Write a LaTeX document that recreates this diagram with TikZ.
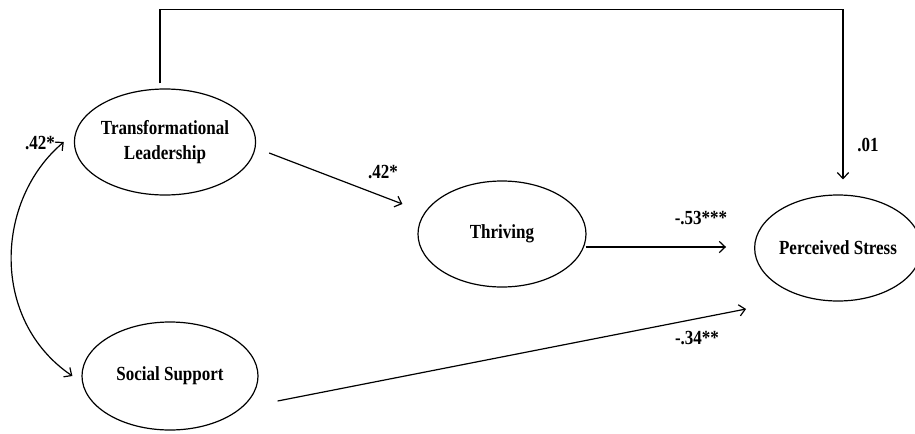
\documentclass[tikz,border=0pt]{standalone}
\usepackage{fontspec}
\setmainfont{Liberation Serif}[FakeStretch=0.85]
\usetikzlibrary{shapes.geometric,arrows.meta}
\begin{document}
\begin{tikzpicture}[x=0.75pt,y=-0.75pt,
  latent/.style={ellipse,draw,line width=0.9pt,inner sep=0pt,align=center,
    font=\fontsize{15}{18.5}\selectfont\bfseries},
  conn/.style={line width=0.9pt,-{Straight Barb[length=4.5pt,width=8.5pt,line width=0.9pt]}},
  dconn/.style={line width=0.9pt,{Straight Barb[length=4.5pt,width=8.5pt,line width=0.9pt]}-{Straight Barb[length=4.5pt,width=8.5pt,line width=0.9pt]}},
  coef/.style={inner sep=0pt,font=\fontsize{15}{18}\selectfont\bfseries}]
\useasboundingbox (0,0) rectangle (915,433);
\node[latent,minimum width=124.5pt,minimum height=79.5pt] (TL) at (165,142) {Transformational\\Leadership};
\node[latent,minimum width=132pt,minimum height=81pt] (SS) at (170,376) {Social Support};
\node[latent,minimum width=126pt,minimum height=79.5pt] (TH) at (502,234) {Thriving};
\node[latent,minimum width=115.5pt,minimum height=79.5pt] (PS) at (838,248) {Perceived Stress};
% connectors
\draw[conn] ([shift={(-5,-5)}]TL.north) -- ++(0,-74) -| ([shift={(5,-15)}]PS.north);
\draw[conn] ([shift={(13,11)}]TL.east) -- ([shift={(-15,-30)}]TH.west);
\draw[conn] ([shift={(-1,13)}]TH.east) -- ([shift={(-28,-1)}]PS.west);
\draw[conn] ([shift={(19,25)}]SS.east) -- ([shift={(-8,61)}]PS.west);
\draw[dconn] ([shift={(-10,0)}]TL.west) .. controls (-5,200) and (-10,320) .. ([shift={(-9,0)}]SS.west);
% coefficients
\node[coef] (c1) at (40,143) {.42*};
\node[coef] (c2) at (383,172) {.42*};
\node[coef] (c3) at (868,145) {.01};
\node[coef] (c4) at (701,218) {-.53***};
\node[coef] (c5) at (697,338) {-.34**};
\end{tikzpicture}
\end{document}
